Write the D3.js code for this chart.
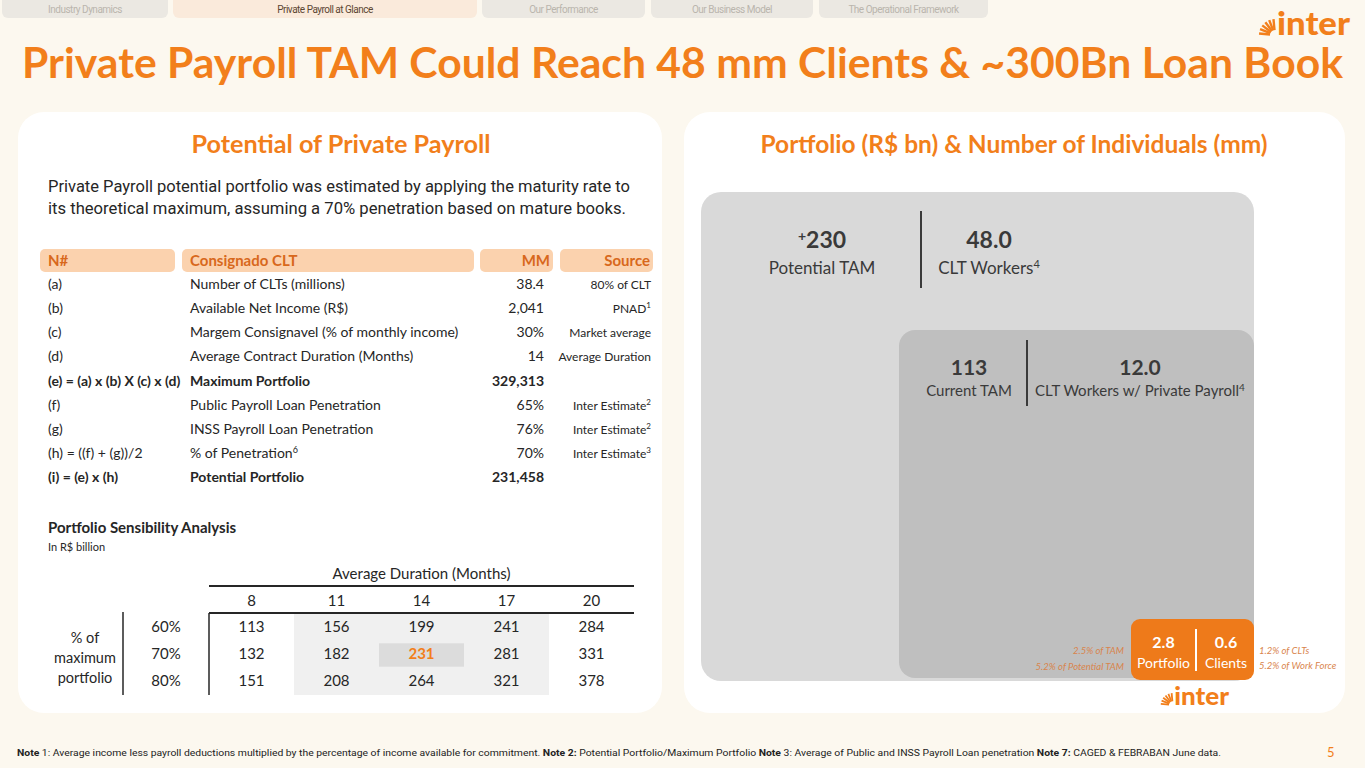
<!DOCTYPE html>
<html>
<head>
<meta charset="utf-8">
<script src="https://cdn.jsdelivr.net/npm/d3@7"></script>
<style>
  body { margin: 0; background: #fcf8ef; }
  svg { display: block; }
</style>
</head>
<body>
<svg id="slide" width="1365" height="768"></svg>
<script>
// ---- data ----
var tabs = ["Industry Dynamics", "Private Payroll at Glance", "Our Performance", "Our Business Model", "The Operational Framework"];
var activeTab = 1;

var headers = ["N#", "Consignado CLT", "MM", "Source"];
var rowIds = ["(a)", "(b)", "(c)", "(d)", "(e) = (a) x (b) X (c) x (d)", "(f)", "(g)", "(h) = ((f) + (g))/2", "(i) = (e) x (h)"];
var rowLabels = ["Number of CLTs (millions)", "Available Net Income (R$)", "Margem Consignavel (% of monthly income)",
  "Average Contract Duration (Months)", "Maximum Portfolio", "Public Payroll Loan Penetration",
  "INSS Payroll Loan Penetration", "% of Penetration", "Potential Portfolio"];
var labelSup = ["", "", "", "", "", "", "", "6", ""];
var rowValues = ["38.4", "2,041", "30%", "14", "329,313", "65%", "76%", "70%", "231,458"];
var rowSources = ["80% of CLT", "PNAD", "Market average", "Average Duration", "", "Inter Estimate", "Inter Estimate", "Inter Estimate", ""];
var sourceSup = ["", "1", "", "", "", "2", "2", "3", ""];
var boldRows = ["(e) = (a) x (b) X (c) x (d)", "(i) = (e) x (h)"];

var durations = ["8", "11", "14", "17", "20"];
var penetrations = ["60%", "70%", "80%"];
var sensitivity = [
  [113, 156, 199, 241, 284],
  [132, 182, 231, 281, 331],
  [151, 208, 264, 321, 378]
];
var baseCase = {row: "70%", col: "14"};

var tamFigures = [
  {value: "230", prefix: "+", label: "Potential TAM", sup: ""},
  {value: "48.0", prefix: "", label: "CLT Workers", sup: "4"}
];
var currentFigures = [
  {value: "113", label: "Current TAM", sup: ""},
  {value: "12.0", label: "CLT Workers w/ Private Payroll", sup: "4"}
];
var interFigures = [
  {value: "2.8", label: "Portfolio"},
  {value: "0.6", label: "Clients"}
];
var leftNotes = ["2.5% of TAM", "5.2% of Potential TAM"];
var rightNotes = ["1.2% of CLTs", "5.2% of Work Force"];

var ORANGE = "#f27f1b";
var DARK = "#262626";
var svg = d3.select("#slide");

// ---- background & tabs ----
svg.append("rect").attr("width", 1365).attr("height", 768).attr("fill", "#fcf8ef");

var tabW = [166, 304, 163, 162, 169];
var tabStart = [2, 173, 482, 651, 819];
var tg = svg.selectAll(".tab").data(tabs).enter().append("g").attr("class", "tab");
tg.append("rect")
  .attr("x", function(d, i) { return tabStart[i]; })
  .attr("y", -8).attr("width", function(d, i) { return tabW[i]; }).attr("height", 26).attr("rx", 6)
  .attr("fill", function(d, i) { return i == activeTab ? "#faeadb" : "#ebe8e2"; });
tg.append("text")
  .attr("x", function(d, i) { return tabStart[i] + tabW[i] / 2; })
  .attr("y", 13).attr("text-anchor", "middle")
  .style("font", "10px Roboto").attr("letter-spacing", "-0.5")
  .attr("fill", function(d, i) { return i == activeTab ? "#5c4632" : "#bab5ad"; })
  .text(function(d) { return d; });

function drawLogo(x, y, size) {
  var g = svg.append("g").attr("transform", "translate(" + x + "," + y + ")");
  var s = size / 32;
  // rays fanning from the bottom-right corner of the mark
  var angles = d3.range(6).map(function(i) { return Math.PI * (1.03 + i * 0.088); });
  g.selectAll("line").data(angles).enter().append("line")
    .attr("x1", function(a) { return 17 * s + Math.cos(a) * 5 * s; })
    .attr("y1", function(a) { return Math.sin(a) * 5 * s; })
    .attr("x2", function(a) { return 17 * s + Math.cos(a) * 16 * s; })
    .attr("y2", function(a) { return Math.sin(a) * 16 * s; })
    .attr("stroke", ORANGE).attr("stroke-width", 2.4 * s);
  g.append("text").attr("x", 19 * s).attr("y", 0)
    .attr("textLength", 73 * s).attr("lengthAdjust", "spacingAndGlyphs")
    .style("font", "900 " + size + "px Lato").attr("fill", ORANGE).text("inter");
}
drawLogo(1258, 35, 32);

// ---- title ----
svg.append("text").attr("x", 22).attr("y", 78)
  .attr("textLength", 1321).attr("lengthAdjust", "spacingAndGlyphs")
  .style("font", "bold 42px Lato").attr("fill", ORANGE)
  .text("Private Payroll TAM Could Reach 48 mm Clients & ~300Bn Loan Book");

// ---- panels ----
svg.append("rect").attr("x", 18).attr("y", 112).attr("width", 644).attr("height", 601).attr("rx", 26).attr("fill", "#fff");
svg.append("rect").attr("x", 684).attr("y", 112).attr("width", 661).attr("height", 601).attr("rx", 26).attr("fill", "#fff");

svg.append("text").attr("x", 341).attr("y", 153).attr("text-anchor", "middle")
  .attr("textLength", 299).attr("lengthAdjust", "spacingAndGlyphs")
  .style("font", "bold 24px Lato").attr("fill", ORANGE).text("Potential of Private Payroll");
svg.append("text").attr("x", 1014).attr("y", 153).attr("text-anchor", "middle")
  .attr("textLength", 507).attr("lengthAdjust", "spacingAndGlyphs")
  .style("font", "bold 24px Lato").attr("fill", ORANGE).text("Portfolio (R$ bn) & Number of Individuals (mm)");

var para = ["Private Payroll potential portfolio was estimated by applying the maturity rate to",
  "its theoretical maximum, assuming a 70% penetration based on mature books."];
svg.selectAll(".para").data(para).enter().append("text")
  .attr("x", 48).attr("y", function(d, i) { return 192 + i * 22; })
  .attr("textLength", function(d, i) { return i == 0 ? 582 : 578; }).attr("lengthAdjust", "spacingAndGlyphs")
  .style("font", "17px Roboto").attr("fill", DARK).text(function(d) { return d; });

// ---- main table ----
var colBox = [[40, 175], [182, 474], [480, 553], [560, 653]];
svg.selectAll(".hcell").data(headers).enter().append("rect")
  .attr("x", function(d, i) { return colBox[i][0]; }).attr("y", 249)
  .attr("width", function(d, i) { return colBox[i][1] - colBox[i][0]; }).attr("height", 23).attr("rx", 5)
  .attr("fill", "#fbd2ae");
svg.selectAll(".htext").data(headers).enter().append("text")
  .attr("x", function(d, i) { return i < 2 ? colBox[i][0] + 8 : colBox[i][1] - 3; })
  .attr("y", 266).attr("text-anchor", function(d, i) { return i < 2 ? "start" : "end"; })
  .style("font", "bold 15px Lato").attr("fill", "#d8681c").text(function(d) { return d; });

var y = d3.scaleBand().domain(rowIds).range([272, 489]);
var rows = svg.selectAll(".row").data(rowIds).enter().append("g")
  .attr("transform", function(d) { return "translate(0," + (y(d) + y.bandwidth() / 2 + 5) + ")"; })
  .style("font-weight", function(d) { return boldRows.indexOf(d) >= 0 ? "bold" : "normal"; });
rows.append("text").attr("x", 48).style("font-size", "14px").style("font-family", "Lato").attr("fill", DARK)
  .text(function(d) { return d; });
var lab = rows.append("text").attr("x", 190).style("font-size", "14px").style("font-family", "Lato").attr("fill", DARK);
lab.append("tspan").text(function(d, i) { return rowLabels[i]; });
lab.append("tspan").attr("dy", -5).style("font-size", "9px").text(function(d, i) { return labelSup[i]; });
rows.append("text").attr("x", 544).attr("text-anchor", "end").style("font-size", "14px").style("font-family", "Lato").attr("fill", DARK)
  .text(function(d, i) { return rowValues[i]; });
var src = rows.append("text").attr("x", 651).attr("text-anchor", "end").style("font-size", "12px").style("font-family", "Lato").attr("fill", DARK);
src.append("tspan").text(function(d, i) { return rowSources[i]; });
src.append("tspan").attr("dy", -5).style("font-size", "8px").text(function(d, i) { return sourceSup[i]; });

// ---- sensitivity ----
svg.append("text").attr("x", 48).attr("y", 533).style("font", "bold 15px Lato").attr("fill", DARK).text("Portfolio Sensibility Analysis");
svg.append("text").attr("x", 48).attr("y", 551).style("font", "11px Lato").attr("fill", DARK).text("In R$ billion");

var sx = d3.scaleBand().domain(durations).range([209, 634]);
var sy = d3.scaleBand().domain(penetrations).range([613, 695]);

svg.append("rect").attr("x", sx("11")).attr("y", 613).attr("width", sx("17") + sx.bandwidth() - sx("11"))
  .attr("height", 82).attr("fill", "#f0f0f0");
svg.append("rect").attr("x", sx(baseCase.col)).attr("y", sy(baseCase.row) + 3).attr("width", sx.bandwidth())
  .attr("height", sy.bandwidth() - 4).attr("fill", "#dcdcdc");

svg.append("text").attr("x", 421.5).attr("y", 579).attr("text-anchor", "middle").style("font", "15px Lato").attr("fill", DARK)
  .text("Average Duration (Months)");
svg.append("line").attr("x1", 209).attr("x2", 634).attr("y1", 586).attr("y2", 586).attr("stroke", DARK).attr("stroke-width", 2);
svg.append("line").attr("x1", 209).attr("x2", 634).attr("y1", 613).attr("y2", 613).attr("stroke", DARK).attr("stroke-width", 2);
svg.append("line").attr("x1", 209).attr("x2", 209).attr("y1", 613).attr("y2", 695).attr("stroke", DARK).attr("stroke-width", 1.5);
svg.append("line").attr("x1", 123).attr("x2", 123).attr("y1", 612).attr("y2", 695).attr("stroke", DARK).attr("stroke-width", 1.5);

svg.selectAll(".dur").data(durations).enter().append("text")
  .attr("x", function(d) { return sx(d) + sx.bandwidth() / 2; }).attr("y", 606).attr("text-anchor", "middle")
  .style("font", "15px Lato").attr("fill", DARK).text(function(d) { return d; });
svg.selectAll(".pen").data(penetrations).enter().append("text")
  .attr("x", 166).attr("y", function(d) { return sy(d) + sy.bandwidth() / 2 + 5; }).attr("text-anchor", "middle")
  .style("font", "15px Lato").attr("fill", DARK).text(function(d) { return d; });
svg.selectAll(".plab").data(["% of", "maximum", "portfolio"]).enter().append("text")
  .attr("x", 85).attr("y", function(d, i) { return 643 + i * 20; }).attr("text-anchor", "middle")
  .style("font", "14.5px Lato").attr("fill", DARK).text(function(d) { return d; });

penetrations.forEach(function(p, r) {
  svg.selectAll(".cell" + r).data(sensitivity[r]).enter().append("text")
    .attr("x", function(d, c) { return sx(durations[c]) + sx.bandwidth() / 2; })
    .attr("y", sy(p) + sy.bandwidth() / 2 + 5).attr("text-anchor", "middle")
    .style("font", function(d, c) { return (p == baseCase.row && durations[c] == baseCase.col ? "bold " : "") + "15px Lato"; })
    .attr("fill", function(d, c) { return p == baseCase.row && durations[c] == baseCase.col ? ORANGE : DARK; })
    .text(function(d) { return d; });
});

// ---- right panel: nested TAM boxes ----
var GREYTXT = "#3a3a3a";
svg.append("rect").attr("x", 701).attr("y", 192).attr("width", 553).attr("height", 489).attr("rx", 20).attr("fill", "#d9d9d9");
svg.append("rect").attr("x", 899).attr("y", 330).attr("width", 355).attr("height", 348).attr("rx", 16).attr("fill", "#bfbfbf");

var topX = [822, 989];
tamFigures.forEach(function(f, i) {
  var t = svg.append("text").attr("x", topX[i]).attr("y", 248).attr("text-anchor", "middle")
    .style("font", "bold 23px Lato").attr("fill", GREYTXT);
  if (f.prefix) t.append("tspan").attr("dy", -7).style("font-size", "14px").text(f.prefix);
  t.append("tspan").attr("dy", f.prefix ? 7 : 0).text(f.value);
  var l = svg.append("text").attr("x", topX[i]).attr("y", 274).attr("text-anchor", "middle")
    .style("font", "17px Lato").attr("fill", GREYTXT);
  l.append("tspan").text(f.label);
  if (f.sup) l.append("tspan").attr("dy", -6).style("font-size", "11px").text(f.sup);
});
svg.append("line").attr("x1", 921).attr("x2", 921).attr("y1", 211).attr("y2", 288).attr("stroke", GREYTXT).attr("stroke-width", 2);

var curX = [969, 1140];
currentFigures.forEach(function(f, i) {
  svg.append("text").attr("x", curX[i]).attr("y", 375).attr("text-anchor", "middle")
    .style("font", "bold 21px Lato").attr("fill", GREYTXT).text(f.value);
  var l = svg.append("text").attr("x", curX[i]).attr("y", 396).attr("text-anchor", "middle")
    .style("font", "15px Lato").attr("fill", GREYTXT);
  l.append("tspan").text(f.label);
  if (f.sup) l.append("tspan").attr("dy", -5).style("font-size", "10px").text(f.sup);
});
svg.append("line").attr("x1", 1027).attr("x2", 1027).attr("y1", 340).attr("y2", 406).attr("stroke", GREYTXT).attr("stroke-width", 2);

svg.append("rect").attr("x", 1131).attr("y", 619).attr("width", 123).attr("height", 61).attr("rx", 9).attr("fill", "#ee7a1a");
var intX = [1163.5, 1226];
interFigures.forEach(function(f, i) {
  svg.append("text").attr("x", intX[i]).attr("y", 648).attr("text-anchor", "middle")
    .style("font", "bold 16px Lato").attr("fill", "#fff").text(f.value);
  svg.append("text").attr("x", intX[i]).attr("y", 668).attr("text-anchor", "middle")
    .style("font", "14px Lato").attr("fill", "#fff").text(f.label);
});
svg.append("line").attr("x1", 1196).attr("x2", 1196).attr("y1", 629).attr("y2", 671).attr("stroke", "#fff").attr("stroke-width", 2);

svg.selectAll(".lnote").data(leftNotes).enter().append("text")
  .attr("x", 1124).attr("y", function(d, i) { return 654 + i * 16; }).attr("text-anchor", "end")
  .style("font", "italic 9.5px Lato").attr("fill", "#d9844c").text(function(d) { return d; });
svg.selectAll(".rnote").data(rightNotes).enter().append("text")
  .attr("x", 1259).attr("y", function(d, i) { return 654 + i * 15; })
  .style("font", "italic 9.5px Lato").attr("fill", "#d9844c").text(function(d) { return d; });

drawLogo(1160, 705, 24);

// ---- footnote ----
var notes = [
  {t: "Note ", b: true}, {t: "1: Average income less payroll deductions multiplied by the percentage of income available for commitment. ", b: false},
  {t: "Note 2: ", b: true}, {t: "Potential Portfolio/Maximum Portfolio ", b: false},
  {t: "Note ", b: true}, {t: "3: Average of Public and INSS Payroll Loan penetration ", b: false},
  {t: "Note 7: ", b: true}, {t: "CAGED & FEBRABAN June data.", b: false}
];
var fn = svg.append("text").attr("x", 17).attr("y", 756)
  .attr("textLength", 1204).attr("lengthAdjust", "spacingAndGlyphs")
  .style("font", "9.5px Roboto").attr("fill", "#222");
fn.selectAll("tspan").data(notes).enter().append("tspan")
  .style("font-weight", function(d) { return d.b ? "bold" : "normal"; })
  .text(function(d) { return d.t; });
svg.append("text").attr("x", 1327).attr("y", 757).style("font", "13px Lato").attr("fill", ORANGE).text("5");
</script>
</body>
</html>
